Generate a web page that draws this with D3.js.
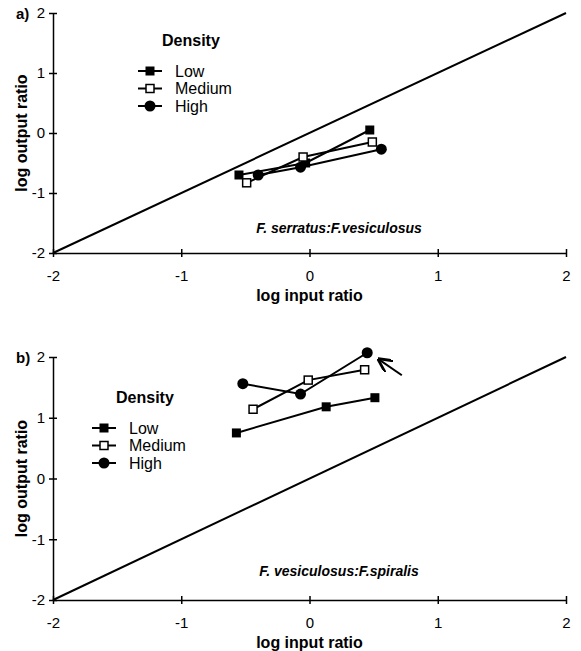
<!DOCTYPE html>
<html>
<head>
<meta charset="utf-8">
<script src="https://cdn.jsdelivr.net/npm/d3@7"></script>
<style>
  body { margin: 0; background: #fff; }
  svg { font-family: "Liberation Sans", Arial, sans-serif; }
  .axis text { font-size: 15px; fill: #000; }
  .axis path, .axis line { stroke: #000; stroke-width: 1.5; }
  .title { font-size: 16px; font-weight: bold; }
</style>
</head>
<body>
<script>
var width = 581, height = 651;

var ticks = [-2, -1, 0, 1, 2];
var tickLabels = ["-2", "-1", "0", "1", "2"];
var densities = ["Low", "Medium", "High"];

// panel a: F. serratus : F. vesiculosus
var inputA  = { Low: [-0.55, -0.03, 0.47], Medium: [-0.49, -0.05, 0.49], High: [-0.40, -0.07, 0.56] };
var outputA = { Low: [-0.70, -0.50, 0.05], Medium: [-0.83, -0.40, -0.15], High: [-0.70, -0.57, -0.27] };

// panel b: F. vesiculosus : F. spiralis
var inputB  = { Low: [-0.57, 0.13, 0.51], Medium: [-0.44, -0.01, 0.43], High: [-0.52, -0.07, 0.45] };
var outputB = { Low: [0.75, 1.18, 1.33], Medium: [1.14, 1.62, 1.79], High: [1.56, 1.39, 2.07] };

var svg = d3.select("body").append("svg")
  .attr("width", width)
  .attr("height", height);

var x = d3.scaleLinear().domain([-2, 2]).range([53, 566]);

function fmt(d, i) { return tickLabels[i]; }

function symbol(g, type, cx, cy) {
  if (type == "Low") {
    g.append("rect").attr("x", cx - 4.5).attr("y", cy - 4.5)
      .attr("width", 9).attr("height", 9).attr("fill", "#000");
  } else if (type == "Medium") {
    g.append("rect").attr("x", cx - 4).attr("y", cy - 4)
      .attr("width", 8).attr("height", 8)
      .attr("fill", "#fff").attr("stroke", "#000").attr("stroke-width", 1.5);
  } else {
    g.append("circle").attr("cx", cx).attr("cy", cy).attr("r", 5.5).attr("fill", "#000");
  }
}

function drawPanel(opt) {
  var y = d3.scaleLinear().domain([-2, 2]).range([opt.bottom, opt.top]);
  var g = svg.append("g");

  // x axis
  var xa = g.append("g").attr("class", "axis")
    .attr("transform", "translate(0," + opt.bottom + ")")
    .call(d3.axisBottom(x).tickValues(ticks).tickFormat(fmt)
      .tickSize(4).tickSizeOuter(0).tickPadding(13));
  xa.selectAll(".tick line").attr("y1", -4);

  // y axis
  var ya = g.append("g").attr("class", "axis")
    .attr("transform", "translate(" + x(-2) + ",0)")
    .call(d3.axisLeft(y).tickValues(ticks).tickFormat(fmt)
      .tickSize(4).tickSizeOuter(0).tickPadding(4));
  ya.selectAll(".tick line").attr("x1", 4);

  // 1:1 line
  g.append("line")
    .attr("x1", x(-2)).attr("y1", y(-2))
    .attr("x2", x(2)).attr("y2", y(2))
    .attr("stroke", "#000").attr("stroke-width", 2);

  var line = d3.line().x(function(d) { return x(d[0]); }).y(function(d) { return y(d[1]); });

  densities.forEach(function(k) {
    var pts = d3.zip(opt.input[k], opt.output[k]);
    g.append("path").datum(pts)
      .attr("d", line)
      .attr("fill", "none").attr("stroke", "#000").attr("stroke-width", 2);
  });
  densities.forEach(function(k) {
    d3.zip(opt.input[k], opt.output[k]).forEach(function(d) {
      symbol(g, k, x(d[0]), y(d[1]));
    });
  });

  // axis titles
  g.append("text").attr("class", "title")
    .attr("x", x(0)).attr("y", opt.bottom + 48)
    .attr("text-anchor", "middle")
    .text("log input ratio");

  g.append("text").attr("class", "title")
    .attr("transform", "translate(27," + y(0) + ") rotate(-90)")
    .attr("text-anchor", "middle")
    .text("log output ratio");

  g.append("text")
    .attr("x", 16).attr("y", opt.top + 6)
    .style("font-size", "15px").style("font-weight", "bold")
    .text(opt.label);

  g.append("text")
    .attr("x", 339).attr("y", opt.subY)
    .attr("text-anchor", "middle")
    .style("font-size", "14px").style("font-weight", "bold").style("font-style", "italic")
    .text(opt.sub);

  // legend
  var lg = g.append("g");
  lg.append("text")
    .attr("x", opt.legX + 12).attr("y", opt.legY)
    .style("font-size", "16px").style("font-weight", "bold")
    .text("Density");
  densities.forEach(function(k, i) {
    var ly = opt.legY + 25 + i * 17.5;
    lg.append("line")
      .attr("x1", opt.legX - 12).attr("x2", opt.legX + 12)
      .attr("y1", ly).attr("y2", ly)
      .attr("stroke", "#000").attr("stroke-width", 2);
    symbol(lg, k, opt.legX, ly);
    lg.append("text")
      .attr("x", opt.legX + 25).attr("y", ly + 5.5)
      .style("font-size", "16px")
      .text(k);
  });

  return y;
}

drawPanel({
  top: 13, bottom: 253, label: "a)",
  input: inputA, output: outputA,
  sub: "F.  serratus:F.vesiculosus", subY: 233,
  legX: 150, legY: 46
});

var yb = drawPanel({
  top: 357, bottom: 600, label: "b)",
  input: inputB, output: outputB,
  sub: "F.  vesiculosus:F.spiralis", subY: 576,
  legX: 104, legY: 403
});

// arrow pointing at the last high-density point in panel b
svg.append("defs").append("marker")
  .attr("id", "head")
  .attr("viewBox", "0 0 10 10")
  .attr("refX", 9).attr("refY", 5)
  .attr("markerWidth", 7).attr("markerHeight", 7)
  .attr("orient", "auto")
  .append("path")
  .attr("d", "M0,0L10,5L0,10")
  .attr("fill", "none").attr("stroke", "#000").attr("stroke-width", 2);

svg.append("line")
  .attr("x1", x(0.72)).attr("y1", yb(1.70))
  .attr("x2", x(0.54)).attr("y2", yb(1.96))
  .attr("stroke", "#000").attr("stroke-width", 2)
  .attr("marker-end", "url(#head)");
</script>
</body>
</html>
